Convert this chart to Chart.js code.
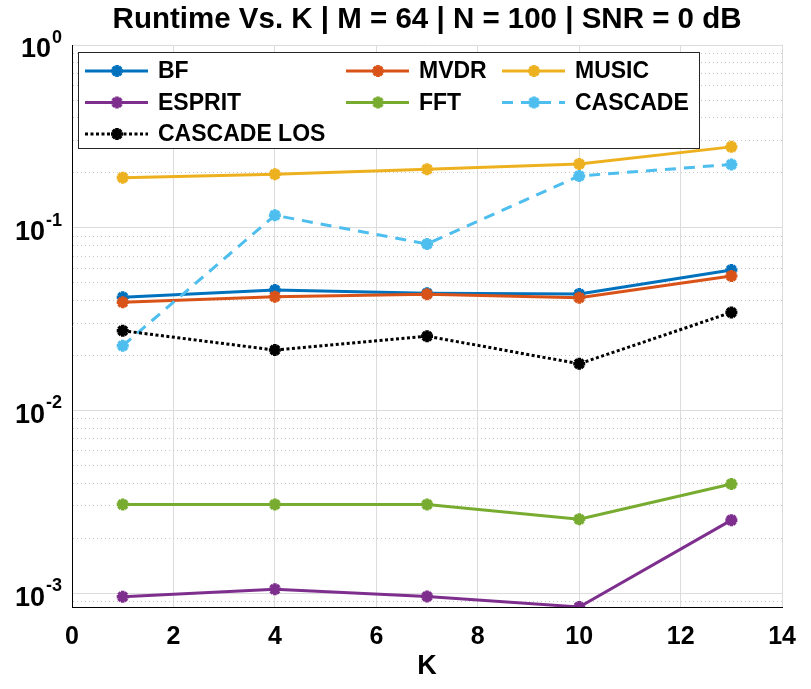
<!DOCTYPE html>
<html><head><meta charset="utf-8">
<script src="https://cdn.jsdelivr.net/npm/chart.js@4.4.1/dist/chart.umd.min.js"></script>
<style>html,body{margin:0;padding:0;background:#fff}#wrap{width:811px;height:689px;position:relative}</style>
</head><body><div id="wrap"><canvas id="c" width="811" height="689"></canvas></div>
<script>
// ---- data ----
const kValues = [1, 4, 7, 10, 13];
const seriesNames = ['BF', 'MVDR', 'MUSIC', 'ESPRIT', 'FFT', 'CASCADE', 'CASCADE LOS'];
const bfValues      = [0.0416, 0.0456, 0.0438, 0.0434, 0.0587];
const mvdrValues    = [0.0391, 0.0419, 0.0432, 0.0414, 0.0544];
const musicValues   = [0.188, 0.196, 0.209, 0.223, 0.277];
const espritValues  = [0.000955, 0.00105, 0.00096, 0.00084, 0.00251];
const fftValues     = [0.00306, 0.00306, 0.00306, 0.00254, 0.00396];
const cascadeValues = [0.0226, 0.117, 0.0814, 0.192, 0.222];
const cascadeLosValues = [0.0273, 0.0214, 0.0255, 0.0180, 0.0344];
const xTicks = [0, 2, 4, 6, 8, 10, 12, 14];
const yDecades = [0.001, 0.01, 0.1, 1];
const yDecadeExponents = ['-3', '-2', '-1', '0'];
const yMinorMultipliers = [2, 3, 4, 5, 6, 7, 8, 9];
const titleText = 'Runtime Vs. K | M = 64 | N = 100 | SNR = 0 dB';
const xTitle = 'K';

// ---- styles ----
const FONT = "'Liberation Sans', Arial, Helvetica, sans-serif";
const colors = ['#0072BD', '#D95319', '#EDB120', '#7E2F8E', '#77AC30', '#4DBEEE', '#000000'];
const dashes = [[], [], [], [], [], [11, 8], [3, 2.5]];
const allSeries = [bfValues, mvdrValues, musicValues, espritValues, fftValues, cascadeValues, cascadeLosValues];

const datasets = allSeries.map((vals, i) => ({
  label: seriesNames[i],
  data: kValues.map((k, j) => ({x: k, y: vals[j]})),
  borderColor: colors[i],
  backgroundColor: colors[i],
  borderWidth: 3,
  borderDash: dashes[i],
  pointStyle: 'star',
  pointRadius: 6,
  pointBorderWidth: 3.6,
  pointBorderColor: colors[i],
  pointBackgroundColor: colors[i],
  tension: 0,
  fill: false,
  order: allSeries.length - i
}));

const yTickValues = [];
for (let e = -4; e <= 0; e++) {
  const base = Math.pow(10, e);
  yTickValues.push(base);
  if (e < 0) yMinorMultipliers.forEach(m => yTickValues.push(m * base));
}
const yMin = 0.00084, yMax = 1;
const isDecade = v => Math.abs(Math.log10(v) - Math.round(Math.log10(v))) < 1e-6;

const decorPlugin = {
  id: 'decor',
  afterDraw(chart) {
    const ctx = chart.ctx, ca = chart.chartArea, ys = chart.scales.y;
    ctx.save();
    // title
    ctx.fillStyle = '#000';
    ctx.font = 'bold 29.5px ' + FONT;
    ctx.textAlign = 'center';
    ctx.textBaseline = 'middle';
    ctx.fillText(titleText, (ca.left + ca.right) / 2, 20);
    // y tick labels with superscripts
    yDecades.forEach((v, i) => {
      const y = ys.getPixelForValue(v);
      ctx.font = 'bold 18px ' + FONT;
      const w2 = ctx.measureText(yDecadeExponents[i]).width;
      ctx.textAlign = 'left';
      ctx.fillText(yDecadeExponents[i], 62 - w2, y - 7);
      ctx.font = 'bold 27px ' + FONT;
      ctx.textAlign = 'right';
      ctx.fillText('10', 62 - w2 - 1, y + 5);
    });
    // legend
    const bx = ca.left + 6, by = ca.top + 7, bw = 621, bh = 96;
    ctx.fillStyle = '#fff';
    ctx.fillRect(bx, by, bw, bh);
    ctx.strokeStyle = '#262626';
    ctx.lineWidth = 1;
    ctx.strokeRect(bx + 0.5, by + 0.5, bw, bh);
    const colX = [7, 268, 424], rowY = [19, 50.5, 82];
    chart.data.datasets.forEach((ds, i) => {
      const col = i % 3, row = Math.floor(i / 3);
      const x0 = bx + colX[col], y0 = by + rowY[row];
      ctx.strokeStyle = ds.borderColor;
      ctx.lineWidth = 3;
      ctx.setLineDash(ds.borderDash || []);
      ctx.beginPath();
      ctx.moveTo(x0, y0);
      ctx.lineTo(x0 + 63, y0);
      ctx.stroke();
      ctx.setLineDash([]);
      ctx.lineWidth = 3.6;
      ctx.fillStyle = ds.borderColor;
      Chart.helpers.drawPoint(ctx, {pointStyle: 'star', radius: 6, borderWidth: 3.6, rotation: 0}, x0 + 32, y0);
      ctx.fillStyle = '#000';
      ctx.font = 'bold 23px ' + FONT;
      ctx.textAlign = 'left';
      ctx.textBaseline = 'middle';
      ctx.fillText(ds.label, x0 + 73, y0 + 1);
    });
    ctx.restore();
  }
};

new Chart(document.getElementById('c'), {
  type: 'line',
  data: {datasets},
  options: {
    responsive: false,
    animation: false,
    layout: {padding: {left: 0, right: 18, top: 45, bottom: 0}},
    plugins: {legend: {display: false}, title: {display: false}, tooltip: {enabled: false}},
    scales: {
      x: {
        type: 'linear', min: 0, max: 14,
        afterBuildTicks: s => { s.ticks = xTicks.map(v => ({value: v})); },
        afterFit: s => { s.height = 82; },
        ticks: {font: {family: FONT, size: 25, weight: 'bold'}, color: '#000', padding: 15, autoSkip: false, maxRotation: 0},
        grid: {color: '#dcdcdc', lineWidth: 1, drawTicks: false},
        border: {display: true, color: '#000', width: 1},
        title: {display: true, text: xTitle, font: {family: FONT, size: 27, weight: 'bold'}, color: '#000', padding: {top: 0, bottom: 6}}
      },
      y: {
        type: 'logarithmic', min: yMin, max: yMax,
        afterBuildTicks: s => { s.ticks = yTickValues.filter(v => v >= yMin && v <= yMax).map(v => ({value: v})); },
        afterFit: s => { s.width = 72; },
        ticks: {callback: () => '', autoSkip: false},
        grid: {
          drawTicks: false,
          lineWidth: 1,
          color: c => (c.tick && isDecade(c.tick.value)) ? '#dcdcdc' : '#c8c8c8'
        },
        border: {display: true, color: '#000', width: 1,
          dash: c => (c.tick && isDecade(c.tick.value)) ? [] : [1, 3]}
      }
    }
  },
  plugins: [decorPlugin]
});
</script></body></html>
